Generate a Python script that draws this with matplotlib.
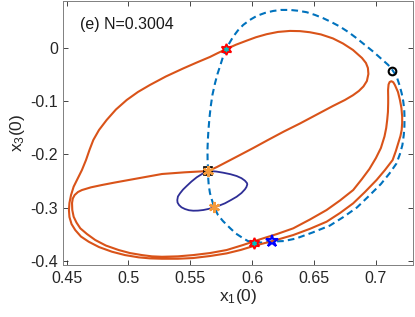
import numpy as np
import matplotlib
matplotlib.use('Agg')
from matplotlib import pyplot as plt

plt.rcParams['font.family'] = ['Liberation Sans', 'DejaVu Sans']
plt.rcParams['mathtext.default'] = 'regular'

# orange trajectory (x1(0), x3(0))
orbit_x = [0.5645, 0.5716, 0.5794, 0.5902, 0.6009, 0.6128, 0.6257, 0.6387, 0.6524, 0.6653,
           0.6750, 0.6815, 0.6863, 0.6900, 0.6928, 0.6940, 0.6936, 0.6920, 0.6888, 0.6815, 0.6734,
           0.6653, 0.6556, 0.6467, 0.6387, 0.6306, 0.6209, 0.6117, 0.6031, 0.5956, 0.5869,
           0.5788, 0.5724, 0.5659, 0.5554, 0.5443, 0.5303, 0.5174, 0.5077, 0.4986, 0.4899,
           0.4824, 0.4762, 0.4716, 0.4685, 0.4657, 0.4624, 0.4588, 0.4557, 0.4536, 0.4523,
           0.4519, 0.4523, 0.4540, 0.4570, 0.4616, 0.4679, 0.4762, 0.4867, 0.4972, 0.5083,
           0.5174, 0.5271, 0.5400, 0.5522, 0.5659, 0.5794, 0.5910, 0.6023, 0.6166, 0.6332,
           0.6467, 0.6602, 0.6710, 0.6817, 0.6912, 0.7006, 0.7074, 0.7136, 0.7162, 0.7181,
           0.7199, 0.7209, 0.7213, 0.7213, 0.7207, 0.7195, 0.7179, 0.7154, 0.7141, 0.7126,
           0.7112, 0.7103, 0.7099, 0.7100, 0.7100, 0.7098, 0.7092, 0.7084, 0.7070, 0.7041,
           0.7001, 0.6948, 0.6888, 0.6817, 0.6710, 0.6602, 0.6467, 0.6332, 0.6201, 0.6063,
           0.5926, 0.5794, 0.5659, 0.5524, 0.5400, 0.5271, 0.5190, 0.5109, 0.5012, 0.4921,
           0.4818, 0.4732, 0.4665, 0.4611, 0.4580, 0.4557, 0.4546, 0.4544, 0.4550, 0.4565,
           0.4592, 0.4624, 0.4697, 0.4786, 0.4891, 0.5002, 0.5134, 0.5271, 0.5457, 0.5645]
orbit_y = [-0.2311, -0.2235, -0.2141, -0.2009, -0.1878, -0.1727, -0.1567, -0.1416, -0.1247, -0.1087,
           -0.0974, -0.0885, -0.0804, -0.0719, -0.0616, -0.0484, -0.0371, -0.0277, -0.0183, -0.0032, 0.0090,
           0.0185, 0.0260, 0.0301, 0.0322, 0.0326, 0.0307, 0.0264, 0.0207, 0.0143, 0.0066,
           -0.0019, -0.0089, -0.0164, -0.0267, -0.0380, -0.0531, -0.0691, -0.0823, -0.0974, -0.1153,
           -0.1350, -0.1539, -0.1727, -0.1915, -0.2104, -0.2292, -0.2461, -0.2606, -0.2763, -0.2913,
           -0.3045, -0.3177, -0.3309, -0.3422, -0.3544, -0.3642, -0.3742, -0.3830, -0.3893, -0.3936,
           -0.3955, -0.3962, -0.3962, -0.3949, -0.3911, -0.3861, -0.3795, -0.3714, -0.3629, -0.3516,
           -0.3399, -0.3265, -0.3102, -0.2919, -0.2706, -0.2480, -0.2292, -0.2104, -0.1934, -0.1789,
           -0.1652, -0.1539, -0.1407, -0.1288, -0.1124, -0.0974, -0.0823, -0.0691, -0.0640, -0.0621,
           -0.0635, -0.0682, -0.0785, -0.0917, -0.1036, -0.1200, -0.1350, -0.1501, -0.1661, -0.1878,
           -0.2066, -0.2273, -0.2461, -0.2669, -0.2866, -0.3045, -0.3224, -0.3390, -0.3497, -0.3597,
           -0.3704, -0.3798, -0.3855, -0.3893, -0.3917, -0.3925, -0.3917, -0.3893, -0.3855, -0.3798,
           -0.3714, -0.3610, -0.3497, -0.3390, -0.3281, -0.3171, -0.3045, -0.2913, -0.2829, -0.2763,
           -0.2706, -0.2669, -0.2618, -0.2574, -0.2527, -0.2480, -0.2424, -0.2367, -0.2335, -0.2311]

# dashed blue closed curve
dash_x = [0.5645, 0.5640, 0.5639, 0.5642, 0.5647, 0.5655, 0.5665, 0.5679, 0.5700, 0.5720,
          0.5744, 0.5764, 0.5788, 0.5817, 0.5847, 0.5885, 0.5928, 0.5982, 0.6037, 0.6104,
          0.6171, 0.6233, 0.6306, 0.6370, 0.6441, 0.6508, 0.6575, 0.6641, 0.6710, 0.6779,
          0.6845, 0.6912, 0.6979, 0.7041, 0.7100, 0.7134, 0.7168, 0.7191, 0.7209, 0.7222,
          0.7230, 0.7232, 0.7231, 0.7226, 0.7215, 0.7195, 0.7167, 0.7110, 0.7041, 0.6944,
          0.6847, 0.6738, 0.6629, 0.6492, 0.6354, 0.6257, 0.6164, 0.6088, 0.6019, 0.5966,
          0.5928, 0.5869, 0.5821, 0.5764, 0.5724, 0.5694, 0.5675, 0.5659, 0.5649, 0.5645,
          0.5645]
dash_y = [-0.2311, -0.2104, -0.1915, -0.1727, -0.1539, -0.1313, -0.1100, -0.0879, -0.0659, -0.0484,
          -0.0314, -0.0164, -0.0019, 0.0100, 0.0218, 0.0335, 0.0439, 0.0533, 0.0608, 0.0665,
          0.0702, 0.0721, 0.0721, 0.0706, 0.0678, 0.0627, 0.0565, 0.0492, 0.0407, 0.0303,
          0.0188, 0.0062, -0.0064, -0.0192, -0.0314, -0.0409, -0.0531, -0.0691, -0.0847, -0.1002,
          -0.1162, -0.1313, -0.1476, -0.1633, -0.1821, -0.1991, -0.2169, -0.2358, -0.2556, -0.2781,
          -0.2998, -0.3177, -0.3337, -0.3465, -0.3582, -0.3629, -0.3638, -0.3657, -0.3657, -0.3629,
          -0.3578, -0.3488, -0.3384, -0.3252, -0.3139, -0.2994, -0.2857, -0.2725, -0.2574, -0.2443,
          -0.2311]

# small dark blue loop
loop_x = [0.5645, 0.5708, 0.5767, 0.5825, 0.5875, 0.5914, 0.5942, 0.5958, 0.5961, 0.5954,
          0.5942, 0.5914, 0.5875, 0.5829, 0.5780, 0.5736, 0.5694, 0.5651, 0.5605, 0.5562,
          0.5524, 0.5489, 0.5457, 0.5429, 0.5409, 0.5397, 0.5395, 0.5400, 0.5417, 0.5441,
          0.5471, 0.5510, 0.5552, 0.5598, 0.5645]
loop_y = [-0.2311, -0.2320, -0.2343, -0.2371, -0.2405, -0.2446, -0.2493, -0.2537, -0.2561, -0.2612,
          -0.2655, -0.2725, -0.2795, -0.2857, -0.2919, -0.2960, -0.2994, -0.3023, -0.3045, -0.3056,
          -0.3058, -0.3049, -0.3026, -0.2994, -0.2951, -0.2904, -0.2857, -0.2791, -0.2731, -0.2661,
          -0.2593, -0.2508, -0.2429, -0.2363, -0.2311]

# marked points
start_pt = (0.5645, -0.2311)
circle_pt = (0.7128, -0.0427)
orange_x = [0.5645, 0.5694]
orange_y = [-0.2311, -0.2994]
red_x = [0.5788, 0.6019]
red_y = [-0.0019, -0.3657]
blue_pt = (0.6164, -0.3634)

fig = plt.figure(figsize=(4.15, 3.17), dpi=100)
ax = fig.add_axes([0.153, 0.164, 0.842, 0.833])

ax.plot(dash_x, dash_y, color='#0072BD', lw=1.5, dashes=(3.2, 2.0))
ax.plot(orbit_x, orbit_y, color='#D95319', lw=1.5)
ax.plot(loop_x, loop_y, color='#2E2E96', lw=1.3)

ax.plot(*start_pt, marker='s', ms=5.5, mfc='none', mec='k', mew=1.2)
ax.plot(orange_x, orange_y, ls='none', marker=(6, 2, 0), ms=8, mec='#F49A3C', mew=1.6)
ax.plot(red_x, red_y, ls='none', marker=(6, 1, 0), ms=8, mfc='c', mec='r', mew=1.3)
ax.plot(*blue_pt, marker='*', ms=9, mfc='none', mec='b', mew=1.5)
ax.plot(*circle_pt, marker='o', ms=5.5, mfc='none', mec='k', mew=1.5)

ax.set_xlim(0.4475, 0.73)
ax.set_ylim(-0.408, 0.089)
ax.set_xticks([0.45, 0.5, 0.55, 0.6, 0.65, 0.7])
ax.set_xticklabels(['0.45', '0.5', '0.55', '0.6', '0.65', '0.7'])
ax.set_yticks([-0.4, -0.3, -0.2, -0.1, 0])
ax.set_yticklabels(['-0.4', '-0.3', '-0.2', '-0.1', '0'])
ax.tick_params(direction='in', length=3.5, width=0.6, top=True, right=True,
               labelsize=11.5, colors='#262626', pad=4)
for s in ax.spines.values():
    s.set_color('#808080')
    s.set_linewidth(0.7)

ax.set_xlabel('x$_1$(0)', fontsize=12.5, color='#262626', labelpad=1)
ax.set_ylabel('x$_3$(0)', fontsize=12.5, color='#262626', labelpad=2)
ax.text(0.047, 0.909, '(e) N=0.3004', transform=ax.transAxes, fontsize=11.5,
        va='center', ha='left', color='#1a1a1a')

fig.savefig('out.png', dpi=100)
